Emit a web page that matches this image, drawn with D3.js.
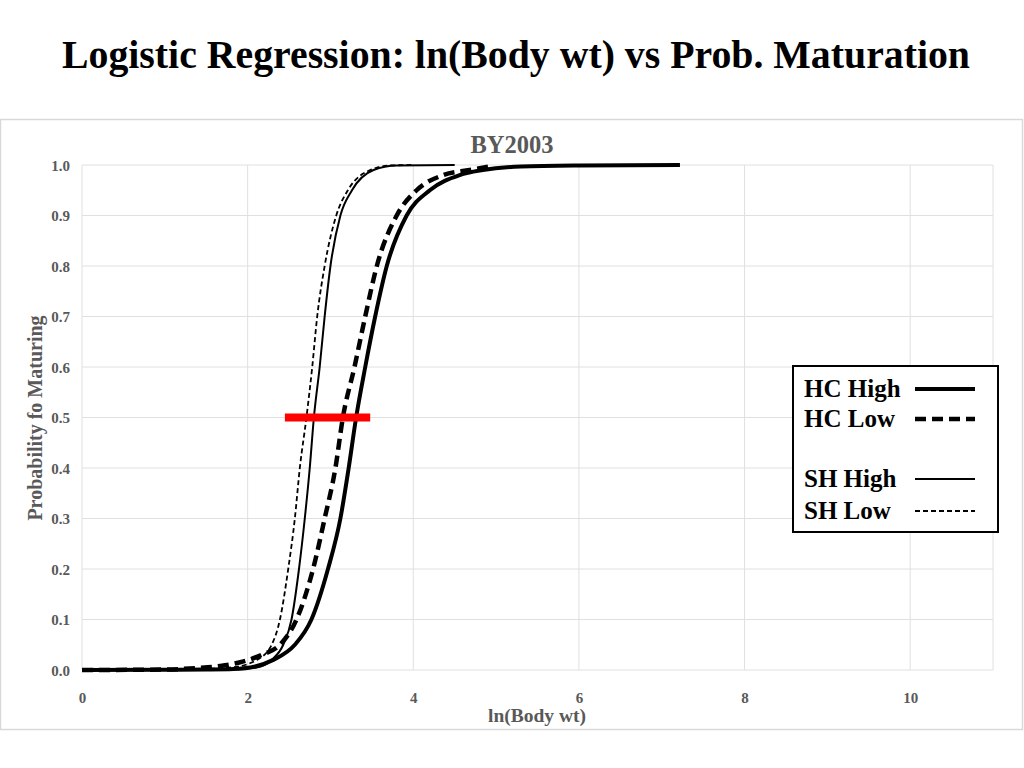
<!DOCTYPE html>
<html>
<head>
<meta charset="utf-8">
<script src="https://cdn.jsdelivr.net/npm/d3@7"></script>
<style>
  body { margin: 0; background: #fff; }
  svg { display: block; }
  text { font-family: "Liberation Serif", "Times New Roman", serif; font-weight: bold; }
</style>
</head>
<body>
<svg width="1024" height="768"></svg>
<script>
/* data: [ln(body wt), probability] */
var hcHigh = [[0,0],[1.0,0.0005],[1.5,0.001],[1.83,0.002],[2.09,0.007],[2.31,0.02],[2.57,0.05],[2.77,0.1],[2.97,0.2],[3.12,0.3],[3.22,0.4],[3.31,0.5],[3.42,0.6],[3.54,0.7],[3.68,0.8],[3.92,0.9],[4.2,0.95],[4.56,0.98],[4.84,0.99],[5.3,0.997],[6.0,0.999],[7.22,1.0]]
var hcLow = [[0,0],[1.0,0.001],[1.4,0.004],[1.67,0.008],[1.95,0.017],[2.17,0.03],[2.39,0.05],[2.59,0.1],[2.79,0.2],[2.93,0.3],[3.06,0.4],[3.15,0.5],[3.29,0.6],[3.42,0.7],[3.56,0.8],[3.8,0.9],[4.04,0.95],[4.36,0.98],[4.68,0.99],[4.95,0.998]]
var shHigh = [[0,0],[1.2,0.0005],[1.8,0.002],[2.11,0.005],[2.29,0.02],[2.43,0.05],[2.53,0.1],[2.62,0.2],[2.69,0.3],[2.75,0.4],[2.8,0.5],[2.87,0.6],[2.93,0.7],[3.0,0.8],[3.12,0.9],[3.26,0.95],[3.52,0.99],[3.8,0.999],[4.5,1.0]]
var shLow = [[0,0],[1.2,0.001],[1.8,0.005],[2.11,0.02],[2.29,0.05],[2.39,0.1],[2.49,0.2],[2.57,0.3],[2.63,0.4],[2.71,0.5],[2.78,0.6],[2.84,0.7],[2.93,0.8],[3.07,0.9],[3.21,0.95],[3.48,0.99],[3.72,0.999],[4.0,1.0]]

/* red marker at p = 0.5 */
var redBar = [[2.45,0.5],[3.48,0.5]]

var xTicks = [0,2,4,6,8,10]
var yTicks = [0,0.1,0.2,0.3,0.4,0.5,0.6,0.7,0.8,0.9,1.0]
var legendNames = ["HC High","HC Low","","SH High","SH Low"]

/*-- styles --*/
var styles = {
    "HC High": {width: 4, dash: null},
    "HC Low":  {width: 4.5, dash: "11,6"},
    "SH High": {width: 2, dash: null},
    "SH Low":  {width: 1.8, dash: "5,3"}
}
var series = [
    {name: "HC High", pts: hcHigh},
    {name: "HC Low", pts: hcLow},
    {name: "SH High", pts: shHigh},
    {name: "SH Low", pts: shLow}
]

var svg = d3.select("svg")
var grey = "#595959"

/* scales */
var x = d3.scaleLinear().domain([0,11]).range([82,993])
var y = d3.scaleLinear().domain([0,1]).range([670,165])

/* main title */
svg.append("text")
    .text("Logistic Regression: ln(Body wt) vs Prob. Maturation")
    .attr("x",62)
    .attr("y",68)
    .attr("font-size",40)
    .attr("textLength",908)
    .attr("lengthAdjust","spacingAndGlyphs")
    .attr("fill","#000")

/* chart frame */
svg.append("rect")
    .attr("x",0.5)
    .attr("y",119.5)
    .attr("width",1022)
    .attr("height",610)
    .attr("fill","none")
    .attr("stroke","#d9d9d9")
    .attr("stroke-width",1.5)

/* grid */
svg.append("g")
    .selectAll("line")
    .data(yTicks)
    .enter()
    .append("line")
    .attr("x1",x(0))
    .attr("x2",x(11))
    .attr("y1",d => y(d))
    .attr("y2",d => y(d))
    .attr("stroke","#e0e0e0")
    .attr("stroke-width",1)

svg.append("g")
    .selectAll("line")
    .data(xTicks.concat([11]))
    .enter()
    .append("line")
    .attr("x1",d => x(d))
    .attr("x2",d => x(d))
    .attr("y1",y(0))
    .attr("y2",y(1))
    .attr("stroke","#e0e0e0")
    .attr("stroke-width",1)

/* axes through d3 axis, only labels kept */
var xAxis = svg.append("g")
    .attr("transform","translate(0,"+y(0)+")")
    .call(d3.axisBottom(x).tickValues(xTicks).tickSize(0).tickPadding(22).tickFormat(d3.format("d")))
var yAxis = svg.append("g")
    .attr("transform","translate("+x(0)+",0)")
    .call(d3.axisLeft(y).tickValues(yTicks).tickSize(0).tickPadding(12).tickFormat(d3.format(".1f")))

xAxis.select(".domain").remove()
yAxis.select(".domain").remove()
svg.selectAll(".tick text")
    .attr("font-size",15)
    .attr("fill",grey)
yAxis.selectAll(".tick text").attr("dy","0.35em")

/* chart title and axis titles */
svg.append("text")
    .text("BY2003")
    .attr("x",512)
    .attr("y",153)
    .attr("text-anchor","middle")
    .attr("font-size",24.5)
    .attr("fill",grey)

svg.append("text")
    .text("ln(Body wt)")
    .attr("x",537)
    .attr("y",722)
    .attr("text-anchor","middle")
    .attr("font-size",19.5)
    .attr("fill",grey)

svg.append("text")
    .text("Probability fo Maturing")
    .attr("transform","translate(42,418) rotate(-90)")
    .attr("text-anchor","middle")
    .attr("font-size",20)
    .attr("fill",grey)

/* curves */
var line = d3.line()
    .x(d => x(d[0]))
    .y(d => y(d[1]))
    .curve(d3.curveMonotoneX)

svg.append("g")
    .selectAll("path")
    .data(series)
    .enter()
    .append("path")
    .attr("d",d => line(d.pts))
    .attr("fill","none")
    .attr("stroke","#000")
    .attr("stroke-width",d => styles[d.name].width)
    .attr("stroke-dasharray",d => styles[d.name].dash)

/* red bar */
svg.append("path")
    .attr("d",d3.line().x(d => x(d[0])).y(d => y(d[1]))(redBar))
    .attr("stroke","#ff0000")
    .attr("stroke-width",8)
    .attr("fill","none")

/* legend */
var leg = svg.append("g")
leg.append("rect")
    .attr("x",793)
    .attr("y",366)
    .attr("width",205)
    .attr("height",166)
    .attr("fill","#fff")
    .attr("stroke","#000")
    .attr("stroke-width",2)

var legRowY = [389,419,449,479,511]
var legItems = leg.selectAll("g.item")
    .data(legendNames.map((n,i) => ({name: n, cy: legRowY[i]})).filter(d => d.name != ""))
    .enter()
    .append("g")
    .attr("class","item")

legItems.append("text")
    .text(d => d.name)
    .attr("x",804)
    .attr("y",d => d.cy + 8)
    .attr("font-size",25)
    .attr("fill","#000")

legItems.append("line")
    .attr("x1",915)
    .attr("x2",975)
    .attr("y1",d => d.cy)
    .attr("y2",d => d.cy)
    .attr("stroke","#000")
    .attr("stroke-width",d => styles[d.name].width)
    .attr("stroke-dasharray",d => styles[d.name].dash)
</script>
</body>
</html>
